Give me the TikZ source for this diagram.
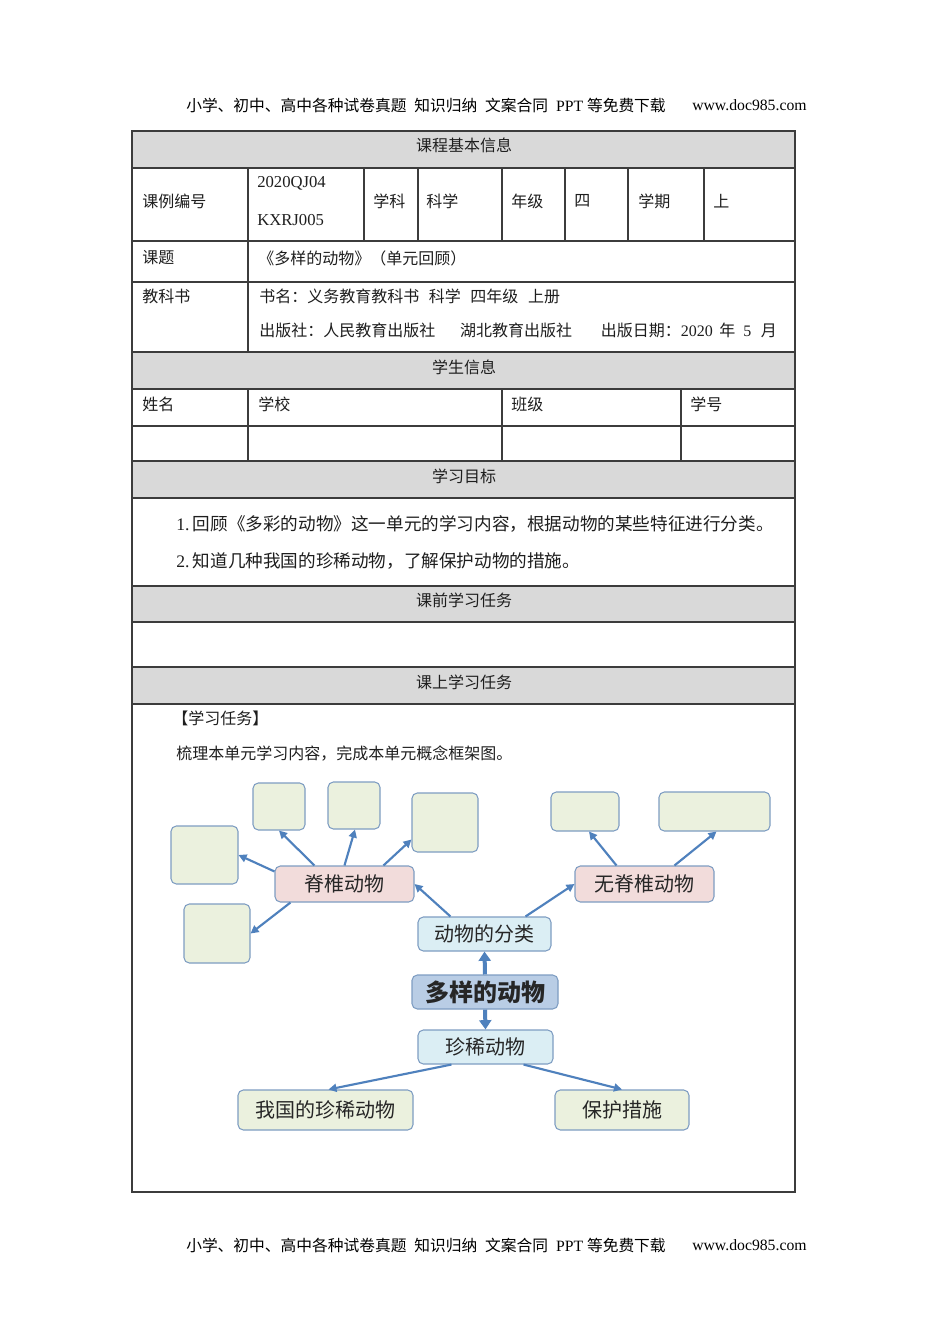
\documentclass[tikz,border=0pt]{standalone}
\usepackage{fontspec}
\setmainfont{Noto Sans CJK SC}
\newfontfamily\latf{Liberation Serif}
\newcommand\latn[1]{{\latf #1}}
\usetikzlibrary{arrows.meta,calc}
\definecolor{hdrgray}{RGB}{217,217,217}
\definecolor{tline}{RGB}{60,60,60}
\definecolor{ttext}{RGB}{30,30,30}
\definecolor{arr}{RGB}{79,129,189}
\definecolor{bbord}{RGB}{126,157,194}
\definecolor{lgreen}{RGB}{235,241,222}
\definecolor{lpink}{RGB}{242,220,219}
\definecolor{lblue}{RGB}{219,238,244}
\definecolor{mblue}{RGB}{185,205,229}
\tikzset{
  tbl/.style={draw=tline,line width=0.8pt},
  txt/.style={anchor=west,inner sep=0pt,text=ttext,font=\fontsize{12}{14}\selectfont},
  ctxt/.style={anchor=center,inner sep=0pt,text=ttext,font=\fontsize{12}{14}\selectfont},
  hf/.style={anchor=west,inner sep=0pt,text=black,font=\fontsize{11.8}{13}\selectfont},
  cbox/.style={draw=bbord,line width=0.8pt,rounded corners=4pt,inner sep=0pt,font=\fontsize{15}{17}\selectfont,text=black!85},
  gbox/.style={cbox,fill=lgreen},
  pbox/.style={cbox,fill=lpink},
  bbox/.style={cbox,fill=lblue},
  arrow/.style={draw=arr,line width=1.6pt,-{Triangle[length=6pt,width=6pt]}},
  tharrow/.style={draw=arr,line width=3pt,-{Triangle[length=7pt,width=9pt]}},
}
\begin{document}
\begin{tikzpicture}[x=0.75pt,y=-0.75pt]
\useasboundingbox (0,0) rectangle (950,1344);
\fill[white] (0,0) rectangle (950,1344);
% page header / footer
\node[hf] (hd1) at (186,105) {小学、初中、高中各种试卷真题\hspace{0.5em}知识归纳\hspace{0.5em}文案合同\hspace{0.5em}\latn{PPT}\hspace{0.25em}等免费下载};
\node[hf] (hd2) at (692,105) {\latn{www.doc985.com}};
\node[hf] (ft1) at (186,1245) {小学、初中、高中各种试卷真题\hspace{0.5em}知识归纳\hspace{0.5em}文案合同\hspace{0.5em}\latn{PPT}\hspace{0.25em}等免费下载};
\node[hf] (ft2) at (692,1245) {\latn{www.doc985.com}};
% grey header bands
\fill[hdrgray] (132,131) rectangle (795,168);
\fill[hdrgray] (132,352) rectangle (795,389);
\fill[hdrgray] (132,461) rectangle (795,498);
\fill[hdrgray] (132,586) rectangle (795,622);
\fill[hdrgray] (132,667) rectangle (795,704);
% table frame
\draw[tbl] (132,131) rectangle (795,1192);
\foreach \yy in {168,241,282,352,389,426,461,498,586,622,667,704}
  \draw[tbl] (132,\yy) -- (795,\yy);
\foreach \xx in {248,364,418,502,565,628,704}
  \draw[tbl] (\xx,168) -- (\xx,241);
\draw[tbl] (248,241) -- (248,352);
\foreach \xx in {248,502,681}
  \draw[tbl] (\xx,389) -- (\xx,461);
% table texts
\node[ctxt] (h1) at (464,145) {课程基本信息};
\node[txt] (c1) at (142,201) {课例编号};
\node[txt,font=\fontsize{12.5}{14}\latf] (c2a) at (257,183) {2020QJ04};
\node[txt,font=\fontsize{12.5}{14}\latf] (c2b) at (257,220) {KXRJ005};
\node[txt] (c3) at (373,201) {学科};
\node[txt] (c4) at (426,201) {科学};
\node[txt] (c5) at (511,201) {年级};
\node[txt] (c6) at (574,201) {四};
\node[txt] (c7) at (638,201) {学期};
\node[txt] (c8) at (713,201) {上};
\node[txt] (r1) at (142,258) {课题};
\node[txt] (r2) at (258,258) {《多样的动物》（单元回顾）};
\node[txt] (b1) at (142,296) {教科书};
\node[txt] (b2) at (259,296) {书名：义务教育教科书\hspace{0.6em}科学\hspace{0.6em}四年级\hspace{0.6em}上册};
\node[txt] (b3) at (259,330) {出版社：人民教育出版社\hspace{1.55em}湖北教育出版社\hspace{1.8em}出版日期：\latn{2020}\hspace{0.4em}年\hspace{0.5em}\latn{5}\hspace{0.6em}月};
\node[ctxt] (h2) at (464,367) {学生信息};
\node[txt] (s1) at (142,404) {姓名};
\node[txt] (s2) at (258,404) {学校};
\node[txt] (s3) at (511,404) {班级};
\node[txt] (s4) at (690,404) {学号};
\node[ctxt] (h3) at (464,476) {学习目标};
\node[txt,font=\fontsize{13.2}{15}\selectfont] (g1) at (176,524) {\latn{1.}\hspace{0.2em}回顾《多彩的动物》这一单元的学习内容，根据动物的某些特征进行分类。};
\node[txt,font=\fontsize{13.2}{15}\selectfont] (g2) at (176,561) {\latn{2.}\hspace{0.2em}知道几种我国的珍稀动物，了解保护动物的措施。};
\node[ctxt] (h4) at (464,600) {课前学习任务};
\node[ctxt] (h5) at (464,682) {课上学习任务};
\node[txt] (t1) at (172,718) {【学习任务】};
\node[txt] (t2) at (176,753) {梳理本单元学习内容，完成本单元概念框架图。};
% concept map boxes
\node[gbox,minimum width=52*0.75pt,minimum height=47*0.75pt] (A) at (279,806.5) {};
\node[gbox,minimum width=52*0.75pt,minimum height=47*0.75pt] (B) at (354,805.5) {};
\node[gbox,minimum width=66*0.75pt,minimum height=59*0.75pt] (C) at (445,822.5) {};
\node[gbox,minimum width=67*0.75pt,minimum height=58*0.75pt] (D) at (204.5,855) {};
\node[gbox,minimum width=66*0.75pt,minimum height=59*0.75pt] (E) at (217,933.5) {};
\node[gbox,minimum width=68*0.75pt,minimum height=39*0.75pt] (F) at (585,811.5) {};
\node[gbox,minimum width=111*0.75pt,minimum height=39*0.75pt] (G) at (714.5,811.5) {};
\node[pbox,minimum width=139*0.75pt,minimum height=36*0.75pt] (ji) at (344.5,884) {脊椎动物};
\node[pbox,minimum width=139*0.75pt,minimum height=36*0.75pt] (wu) at (644.5,884) {无脊椎动物};
\node[bbox,minimum width=133*0.75pt,minimum height=34*0.75pt] (fl) at (484.5,934) {动物的分类};
\node[cbox,fill=mblue,minimum width=146*0.75pt,minimum height=34*0.75pt,font=\fontsize{18}{20}\bfseries\selectfont] (dy) at (485,992) {多样的动物};
\node[bbox,minimum width=135*0.75pt,minimum height=34*0.75pt] (zx) at (485.5,1047) {珍稀动物};
\node[gbox,minimum width=175*0.75pt,minimum height=40*0.75pt] (wg) at (325.5,1110) {我国的珍稀动物};
\node[gbox,minimum width=134*0.75pt,minimum height=40*0.75pt] (bh) at (622,1110) {保护措施};
% connectors
\draw[tharrow] (dy.north) -- (fl.south);
\draw[tharrow] (dy.south) -- (zx.north);
\draw[arrow] ($(fl.north west)+(33,0)$) -- (ji.east);
\draw[arrow] ($(fl.north east)+(-26,0)$) -- (wu.west);
\draw[arrow] ($(ji.north west)+(40,0)$) -- (A.south);
\draw[arrow] ($(ji.north west)+(70,0)$) -- ($(B.south)+(1,0)$);
\draw[arrow] ($(ji.north west)+(109,0)$) -- ($(C.south west)+(0,-13)$);
\draw[arrow] ($(ji.north west)+(0,6)$) -- (D.east);
\draw[arrow] ($(ji.south west)+(16,0)$) -- (E.east);
\draw[arrow] ($(wu.north west)+(42,0)$) -- ($(F.south)+(4,0)$);
\draw[arrow] ($(wu.north west)+(100,0)$) -- ($(G.south)+(2,0)$);
\draw[arrow] ($(zx.south west)+(34,0)$) -- ($(wg.north)+(3,0)$);
\draw[arrow] ($(zx.south east)+(-30,0)$) -- (bh.north);
\end{tikzpicture}
\end{document}
